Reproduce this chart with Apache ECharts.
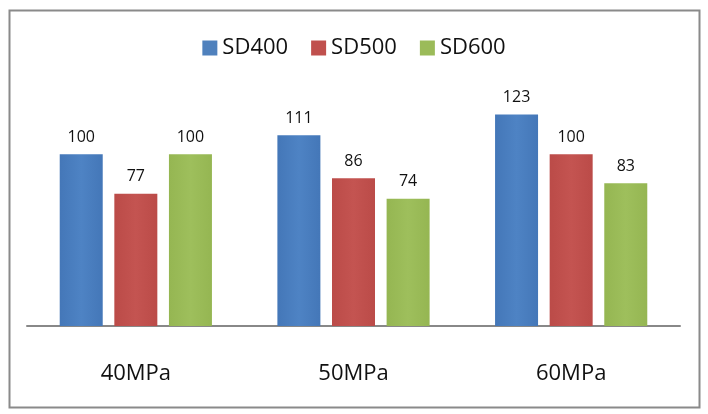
<!DOCTYPE html>
<html>
<head>
<meta charset="utf-8">
<script src="https://cdn.jsdelivr.net/npm/echarts@6/dist/echarts.min.js"></script>
<style>
html,body{margin:0;padding:0;background:#fff;}
#chart{width:708px;height:414px;}
</style>
</head>
<body>
<div id="chart"></div>
<script>
const categories = ['40MPa', '50MPa', '60MPa'];
const seriesNames = ['SD400', 'SD500', 'SD600'];
const sd400 = [100, 111, 123];
const sd500 = [77, 86, 100];
const sd600 = [100, 74, 83];

const colors = [
  ['#4477b8', '#4e83c4', '#4477b8'],
  ['#bb4b48', '#c45451', '#bb4b48'],
  ['#95b652', '#9ebf5c', '#95b652']
];
function grad(c) {
  return new echarts.graphic.LinearGradient(0, 0, 1, 0, [
    {offset: 0, color: c[0]}, {offset: 0.5, color: c[1]}, {offset: 1, color: c[2]}
  ]);
}
const legendColors = ['#4f81bd', '#c0504d', '#9bbb59'];
const values = [sd400, sd500, sd600];
const font = '"Open Sans", sans-serif';

const chart = echarts.init(document.getElementById('chart'));
chart.setOption({
  animation: false,
  backgroundColor: '#fff',
  graphic: [{
    type: 'rect',
    shape: {x: 9.5, y: 10.5, width: 690, height: 397},
    style: {fill: 'none', stroke: '#8a8a8a', lineWidth: 2},
    silent: true
  }],
  legend: {
    top: 32,
    left: 'center',
    itemWidth: 15,
    itemHeight: 15,
    itemGap: 23,
    icon: 'rect',
    textStyle: {fontFamily: font, fontSize: 22, color: '#111'},
    data: seriesNames.map((n, i) => ({name: n, itemStyle: {color: legendColors[i]}}))
  },
  grid: {left: 27, right: 28, top: 51, bottom: 88, containLabel: false},
  xAxis: {
    type: 'category',
    data: categories,
    axisLine: {show: true, lineStyle: {color: '#888', width: 2}},
    axisTick: {show: false},
    axisLabel: {fontFamily: font, fontSize: 22, color: '#111', margin: 37}
  },
  yAxis: {
    type: 'value',
    min: 0,
    max: 160,
    show: false,
    splitLine: {show: false}
  },
  series: seriesNames.map((name, i) => ({
    name: name,
    type: 'bar',
    data: values[i],
    barWidth: 43,
    barGap: '27%',
    itemStyle: {color: grad(colors[i])},
    label: {
      show: true,
      position: 'top',
      distance: 9,
      fontFamily: font,
      fontSize: 16,
      color: '#111'
    }
  })),
  color: legendColors
});
</script>
</body>
</html>
